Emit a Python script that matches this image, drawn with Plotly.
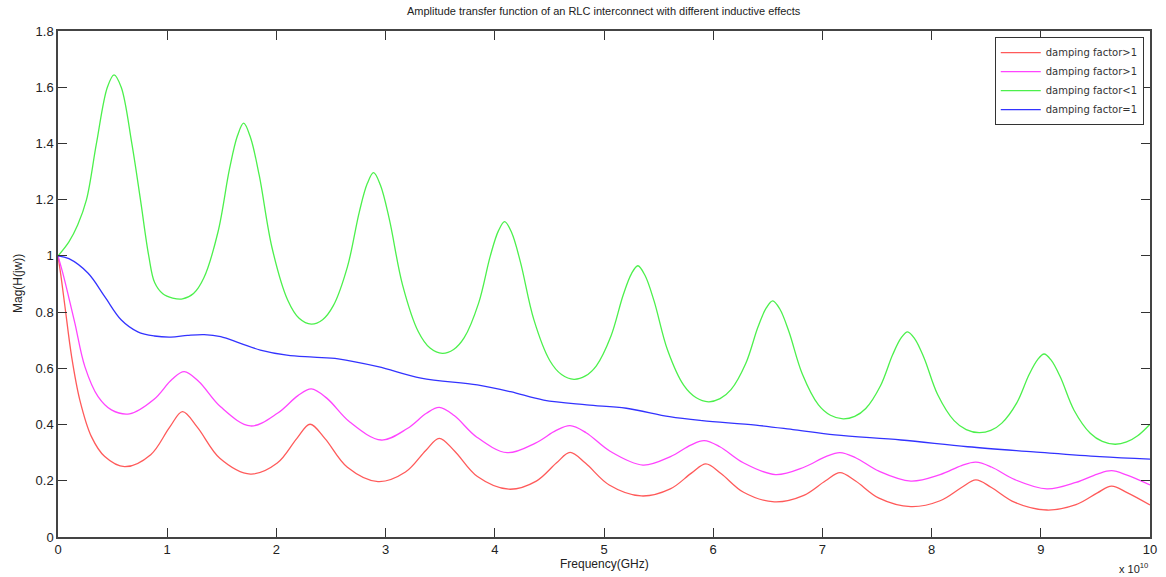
import plotly.graph_objects as go

# Frequency axis values are in units of 1e10 Hz (axis carries the "x 10^10" multiplier)
freq_red = [0, 0.03, 0.064, 0.125, 0.2, 0.306, 0.428, 0.61,
            0.849, 1.023, 1.14, 1.277, 1.482, 1.762,
            2.008, 2.188, 2.308, 2.445, 2.65, 2.93,
            3.182, 3.368, 3.491, 3.631, 3.841, 4.128,
            4.38, 4.566, 4.689, 4.832, 5.048, 5.341,
            5.607, 5.803, 5.933, 6.071, 6.278, 6.56,
            6.83, 7.029, 7.161, 7.304, 7.518, 7.81,
            8.078, 8.274, 8.405, 8.548, 8.763, 9.056,
            9.322, 9.518, 9.648, 9.79, 10.0]
mag_red = [1.0, 0.92, 0.819, 0.641, 0.487, 0.357, 0.286, 0.25,
           0.293, 0.391, 0.446, 0.39, 0.28, 0.224,
           0.263, 0.351, 0.401, 0.35, 0.248, 0.197,
           0.231, 0.308, 0.351, 0.306, 0.215, 0.17,
           0.199, 0.264, 0.301, 0.262, 0.185, 0.146,
           0.171, 0.228, 0.26, 0.226, 0.159, 0.125,
           0.148, 0.2, 0.229, 0.199, 0.138, 0.108,
           0.129, 0.176, 0.203, 0.176, 0.123, 0.096,
           0.115, 0.157, 0.181, 0.158, 0.114]

freq_mag = [0, 0.05, 0.1, 0.155, 0.246, 0.367, 0.489, 0.655,
            0.88, 1.045, 1.156, 1.289, 1.489, 1.762,
            2.013, 2.197, 2.32, 2.461, 2.672, 2.96,
            3.199, 3.374, 3.491, 3.628, 3.833, 4.113,
            4.372, 4.562, 4.689, 4.836, 5.056, 5.357,
            5.609, 5.794, 5.917, 6.061, 6.276, 6.57,
            6.836, 7.031, 7.161, 7.304, 7.518, 7.81,
            8.078, 8.274, 8.405, 8.548, 8.763, 9.056,
            9.322, 9.518, 9.648, 9.79, 10.0]
mag_mag = [1.0, 0.93, 0.85, 0.76, 0.606, 0.499, 0.452, 0.438,
           0.49, 0.561, 0.588, 0.553, 0.463, 0.395,
           0.441, 0.503, 0.527, 0.494, 0.409, 0.345,
           0.386, 0.44, 0.461, 0.432, 0.356, 0.30,
           0.334, 0.379, 0.396, 0.371, 0.305, 0.256,
           0.286, 0.327, 0.343, 0.321, 0.264, 0.222,
           0.249, 0.286, 0.30, 0.282, 0.234, 0.199,
           0.222, 0.254, 0.266, 0.249, 0.204, 0.171,
           0.194, 0.224, 0.236, 0.22, 0.185]

freq_green = [0, 0.1, 0.18, 0.261, 0.352, 0.452, 0.513, 0.579, 0.676, 0.755, 0.831, 0.885, 0.96, 1.05, 1.14,
              1.241, 1.336, 1.465, 1.571, 1.644, 1.70, 1.762, 1.843, 1.96, 2.103, 2.208, 2.32,
              2.423, 2.52, 2.651, 2.759, 2.833, 2.89, 2.953, 3.035, 3.155, 3.30, 3.407, 3.52,
              3.623, 3.72, 3.851, 3.959, 4.033, 4.09, 4.154, 4.236, 4.357, 4.503, 4.611, 4.725,
              4.83, 4.93, 5.064, 5.175, 5.252, 5.31, 5.375, 5.459, 5.582, 5.731, 5.841, 5.957,
              6.063, 6.163, 6.298, 6.41, 6.486, 6.545, 6.61, 6.693, 6.816, 6.964, 7.074, 7.19,
              7.296, 7.397, 7.532, 7.644, 7.721, 7.78, 7.846, 7.931, 8.055, 8.206, 8.317, 8.435,
              8.542, 8.643, 8.78, 8.893, 8.971, 9.03, 9.095, 9.18, 9.303, 9.453, 9.563, 9.68,
              9.786, 9.887, 10.0]
mag_green = [1.0, 1.05, 1.11, 1.2, 1.4, 1.6, 1.644, 1.6, 1.4, 1.2, 1.0, 0.905, 0.865, 0.85, 0.847,
             0.866, 0.922, 1.085, 1.31, 1.428, 1.472, 1.422, 1.286, 1.029, 0.843, 0.778, 0.757,
             0.773, 0.822, 0.962, 1.156, 1.258, 1.296, 1.251, 1.129, 0.897, 0.730, 0.672, 0.653,
             0.667, 0.709, 0.831, 1.0, 1.089, 1.122, 1.083, 0.976, 0.774, 0.628, 0.578, 0.561,
             0.573, 0.609, 0.715, 0.86, 0.937, 0.965, 0.931, 0.839, 0.665, 0.539, 0.496, 0.481,
             0.492, 0.524, 0.617, 0.747, 0.815, 0.84, 0.811, 0.731, 0.58, 0.47, 0.433, 0.42,
             0.429, 0.457, 0.538, 0.649, 0.708, 0.73, 0.705, 0.637, 0.507, 0.414, 0.382, 0.371,
             0.379, 0.405, 0.477, 0.578, 0.631, 0.651, 0.629, 0.568, 0.452, 0.369, 0.34, 0.33,
             0.338, 0.36, 0.401]

freq_blue = [0, 0.1, 0.276, 0.428, 0.58, 0.731, 0.883, 1.034, 1.186, 1.338, 1.49, 1.671,
             1.853, 2.096, 2.338, 2.566, 2.93, 3.324, 3.84, 4.143, 4.447, 4.84, 5.205,
             5.6, 5.9, 6.39, 6.75, 7.115, 7.72, 8.33, 8.935, 9.54, 10.0]
mag_blue = [1.0, 0.99, 0.938, 0.855, 0.772, 0.73, 0.715, 0.711, 0.717, 0.72, 0.713, 0.689,
            0.665, 0.647, 0.64, 0.634, 0.606, 0.565, 0.541, 0.517, 0.487, 0.47, 0.458,
            0.428, 0.414, 0.398, 0.381, 0.363, 0.345, 0.321, 0.303, 0.286, 0.277]

x_ticks = [0, 1, 2, 3, 4, 5, 6, 7, 8, 9, 10]
y_ticks = [0, 0.2, 0.4, 0.6, 0.8, 1.0, 1.2, 1.4, 1.6, 1.8]
y_tick_text = ["0", "0.2", "0.4", "0.6", "0.8", "1", "1.2", "1.4", "1.6", "1.8"]

series = [
    ("damping factor>1", freq_red, mag_red, "#ff5a5a"),
    ("damping factor>1", freq_mag, mag_mag, "#ff44ff"),
    ("damping factor<1", freq_green, mag_green, "#4cf04c"),
    ("damping factor=1", freq_blue, mag_blue, "#3333ff"),
]

fig = go.Figure()
for name, xs, ys, col in series:
    fig.add_trace(go.Scatter(
        x=xs, y=ys, mode="lines", name=name,
        line=dict(color=col, width=1.3, shape="spline", smoothing=1.0),
    ))

axis_common = dict(
    showgrid=False, zeroline=False, showline=True, linecolor="#444", linewidth=1.5,
    mirror="ticks", ticks="inside", ticklen=9, tickwidth=1, tickcolor="#333",
    tickfont=dict(family="Liberation Sans, Arial, sans-serif", size=13, color="#222"),
)

fig.update_layout(
    width=1166, height=577,
    margin=dict(l=58, r=9, t=31, b=40),
    paper_bgcolor="white", plot_bgcolor="white",
    showlegend=True,
    legend=dict(
        x=0.9943, y=0.988, xanchor="right", yanchor="top",
        bgcolor="white", bordercolor="#333", borderwidth=1,
        font=dict(family="DejaVu Sans, sans-serif", size=10, color="#333"),
        tracegroupgap=0, itemwidth=40,
    ),
    xaxis=dict(range=[0, 10], tickvals=x_ticks, ticktext=[str(t) for t in x_ticks], **axis_common),
    yaxis=dict(range=[0, 1.8], tickvals=y_ticks, ticktext=y_tick_text, **axis_common),
    annotations=[
        dict(text="Amplitude transfer function of an RLC interconnect with different inductive effects",
             xref="paper", yref="paper", x=0.5, y=1, yshift=12, xanchor="center", yanchor="bottom",
             showarrow=False, font=dict(family="Liberation Sans, Arial, sans-serif", size=11, color="#222")),
        dict(text="Frequency(GHz)", xref="paper", yref="paper", x=0.5, y=0, yshift=-18,
             xanchor="center", yanchor="top", showarrow=False,
             font=dict(family="Liberation Sans, Arial, sans-serif", size=12, color="#222")),
        dict(text="Mag(H(jw))", xref="paper", yref="paper", x=0, xshift=-40, y=0.5,
             xanchor="center", yanchor="middle", textangle=-90, showarrow=False,
             font=dict(family="Liberation Sans, Arial, sans-serif", size=12, color="#222")),
        dict(text="x 10<sup>10</sup>", xref="paper", yref="paper", x=1, y=0, yshift=-22,
             xanchor="right", yanchor="top", showarrow=False,
             font=dict(family="Liberation Sans, Arial, sans-serif", size=11, color="#222")),
    ],
)

fig.write_html("out.html")
